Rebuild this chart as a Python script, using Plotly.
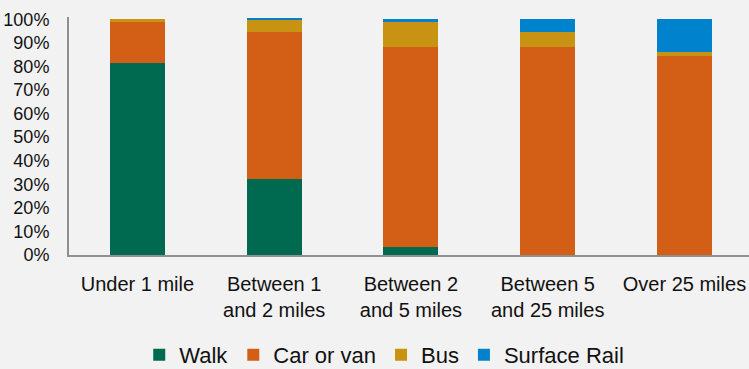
import plotly.graph_objects as go

# Trip distance bands (x-axis categories)
categories = [
    "Under 1 mile",
    "Between 1<br>and 2 miles",
    "Between 2<br>and 5 miles",
    "Between 5<br>and 25 miles",
    "Over 25 miles",
]

# Mode share by distance band (fraction of trips)
walk = [0.815, 0.323, 0.035, 0.0, 0.0]
car_or_van = [0.178, 0.622, 0.847, 0.882, 0.843]
bus = [0.007, 0.055, 0.110, 0.063, 0.017]
surface_rail = [0.0, 0.005, 0.008, 0.055, 0.140]

y_tick_values = [0, 0.1, 0.2, 0.3, 0.4, 0.5, 0.6, 0.7, 0.8, 0.9, 1.0]
y_tick_labels = ["0%", "10%", "20%", "30%", "40%", "50%", "60%", "70%", "80%", "90%", "100%"]

series = [
    ("Walk", walk, "#006A50"),
    ("Car or van", car_or_van, "#D35F16"),
    ("Bus", bus, "#C89312"),
    ("Surface Rail", surface_rail, "#0083CC"),
]

fig = go.Figure()
for name, values, color in series:
    fig.add_trace(go.Bar(
        name=name,
        x=categories,
        y=values,
        marker=dict(color=color, line=dict(width=0)),
        hoverinfo="skip",
    ))

fig.update_layout(
    width=749,
    height=369,
    barmode="stack",
    bargap=0.598,
    paper_bgcolor="#F2F2F2",
    plot_bgcolor="#F2F2F2",
    margin=dict(l=69, r=0, t=17, b=114),
    font=dict(family="Liberation Sans, Arial, sans-serif", color="#111111"),
    showlegend=True,
    legend=dict(
        orientation="h",
        xref="container",
        yref="container",
        x=0.513,
        xanchor="center",
        y=0.038,
        yanchor="middle",
        font=dict(size=22, color="#111111"),
        itemwidth=30,
        bgcolor="rgba(0,0,0,0)",
        traceorder="normal",
    ),
)

fig.update_xaxes(
    type="category",
    range=[-0.5, 4.472],
    showline=True,
    linecolor="#8F8F8F",
    linewidth=2,
    showgrid=False,
    zeroline=False,
    tickfont=dict(size=20, color="#111111"),
    ticks="",
    ticklabelstandoff=10,
)

fig.update_yaxes(
    range=[0, 1.01],
    tickvals=y_tick_values,
    ticktext=y_tick_labels,
    showline=True,
    linecolor="#8F8F8F",
    linewidth=2,
    showgrid=False,
    zeroline=False,
    tickfont=dict(size=18, color="#111111"),
    ticks="",
    ticklabelstandoff=14,
)

fig.write_html("out.html")
